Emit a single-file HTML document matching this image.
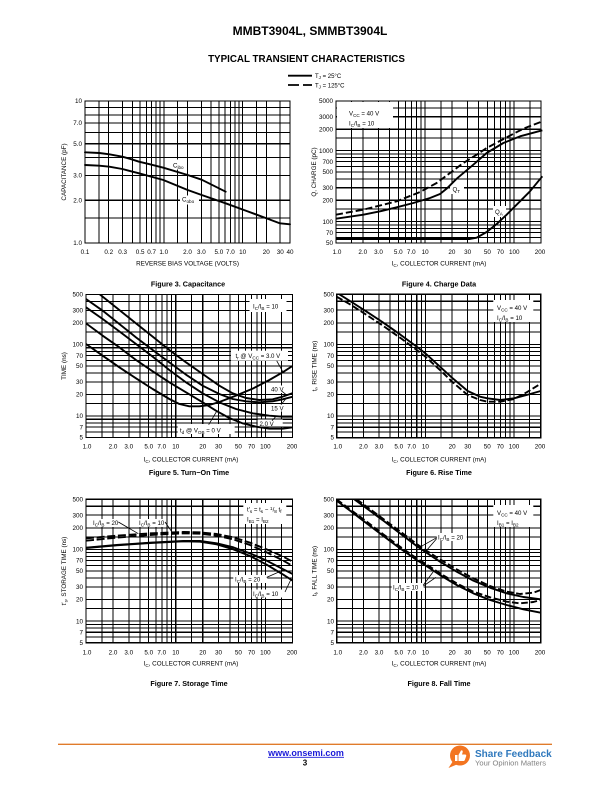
<!DOCTYPE html>
<html><head><meta charset="utf-8"><style>
body{margin:0;background:#fff;width:612px;height:792px;overflow:hidden}
svg{display:block}
text{font-family:"Liberation Sans",Arial,sans-serif;fill:#000}
.t{font-size:6.3px}
.l{font-size:6.1px}
.c{font-size:7.2px;font-weight:bold}
.g{shape-rendering:crispEdges}
</style></head><body>
<svg width="612" height="792" viewBox="0 0 612 792">
<defs>
<path id="v3" d="M176 0V1000M301 0V1000M477 0V1000M602 0V1000M699 0V1000M778 0V1000M845 0V1000M903 0V1000M954 0V1000M1000 0V1000M1176 0V1000M1301 0V1000M1477 0V1000M1602 0V1000M1699 0V1000M1778 0V1000M1845 0V1000M1903 0V1000M1954 0V1000M2000 0V1000M2176 0V1000M2301 0V1000M2477 0V1000"/>
<path id="h3" d="M0 46H2602M0 97H2602M0 155H2602M0 222H2602M0 301H2602M0 398H2602M0 523H2602M0 699H2602M0 824H2602"/>
<path id="vg" d="M176 0V2000M301 0V2000M477 0V2000M602 0V2000M699 0V2000M778 0V2000M845 0V2000M903 0V2000M954 0V2000M1000 0V2000M1176 0V2000M1301 0V2000M1477 0V2000M1602 0V2000M1699 0V2000M1778 0V2000M1845 0V2000M1903 0V2000M1954 0V2000M2000 0V2000M2176 0V2000"/>
<path id="hg" d="M0 97H2301M0 222H2301M0 398H2301M0 523H2301M0 699H2301M0 745H2301M0 796H2301M0 854H2301M0 921H2301M0 1000H2301M0 1097H2301M0 1222H2301M0 1398H2301M0 1523H2301M0 1699H2301M0 1745H2301M0 1796H2301M0 1854H2301M0 1921H2301"/>
</defs>

<!-- Header -->
<text x="310" y="35" font-size="12" font-weight="bold" text-anchor="middle">MMBT3904L, SMMBT3904L</text>
<text x="306.5" y="61.8" font-size="9.8" font-weight="bold" text-anchor="middle">TYPICAL TRANSIENT CHARACTERISTICS</text>
<path d="M288 75.7H312" stroke="#000" stroke-width="1.8"/>
<path d="M288 85H299M303 85H312" stroke="#000" stroke-width="1.8"/>
<text x="315" y="78" font-size="6">T<tspan font-size="4.5" dy="1">J</tspan><tspan dy="-1"> = 25°C</tspan></text>
<text x="315" y="87.3" font-size="6">T<tspan font-size="4.5" dy="1">J</tspan><tspan dy="-1"> = 125°C</tspan></text>

<!-- ================= FIGURE 3 ================= -->
<svg x="85" y="101" width="205" height="142" viewBox="0 0 2602 1000" preserveAspectRatio="none">
<use class="g" href="#v3" stroke="#000" stroke-width="13" fill="none"/>
<use class="g" href="#h3" stroke="#000" stroke-width="7.2" fill="none"/>
</svg>
<rect class="g" x="85" y="101" width="205" height="142" fill="none" stroke="#000" stroke-width="1.3"/>
<rect x="171" y="159.5" width="16" height="10" fill="#fff"/>
<rect x="180" y="195.5" width="19" height="9" fill="#fff"/>
<svg x="60" y="95" width="240" height="165" viewBox="0 0 720 495">
<g fill="none" stroke="#000" stroke-width="5.7" stroke-linejoin="round" stroke-linecap="round">
<polyline points="75,172 118,174 148,178 187,185 215,193 237,200 270,208 310,218 383,240 425,254 497,290"/>
<polyline points="75,210 118,212 148,215 187,222 237,235 310,255 383,285 425,300 497,325 560,348 620,370 660,385 690,388"/>
</g></svg>
<text x="173" y="167.5" font-size="6.2">C<tspan font-size="4.6" dy="1.3">ibo</tspan></text>
<text x="182" y="201.5" font-size="6.2">C<tspan font-size="4.6" dy="1.3">obo</tspan></text>
<g class="t" text-anchor="end">
<text x="82" y="103.2">10</text><text x="82" y="125.2">7.0</text><text x="82" y="145.9">5.0</text><text x="82" y="177.5">3.0</text><text x="82" y="202.5">2.0</text><text x="82" y="245.2">1.0</text>
</g>
<g class="t" text-anchor="middle">
<text x="85" y="254">0.1</text><text x="108.7" y="254">0.2</text><text x="122.6" y="254">0.3</text><text x="140.1" y="254">0.5</text><text x="151.6" y="254">0.7</text><text x="163.8" y="254">1.0</text><text x="187.5" y="254">2.0</text><text x="201.4" y="254">3.0</text><text x="218.9" y="254">5.0</text><text x="230.4" y="254">7.0</text><text x="242.6" y="254">10</text><text x="266.3" y="254">20</text><text x="280.2" y="254">30</text><text x="290" y="254">40</text>
</g>
<text class="t" x="187.5" y="265.5" text-anchor="middle">REVERSE BIAS VOLTAGE (VOLTS)</text>
<text class="t" transform="translate(66,172) rotate(-90)" text-anchor="middle">CAPACITANCE (pF)</text>
<text class="c" x="188" y="286.5" text-anchor="middle">Figure 3. Capacitance</text>

<!-- ================= FIGURE 4 ================= -->
<svg x="336" y="101" width="205" height="142" viewBox="0 0 2301 2000" preserveAspectRatio="none">
<use class="g" href="#vg" stroke="#000" stroke-width="11.5" fill="none"/>
<use class="g" href="#hg" stroke="#000" stroke-width="14.5" fill="none"/>
</svg>
<rect class="g" x="336" y="101" width="205" height="142" fill="none" stroke="#000" stroke-width="1.3"/>
<rect x="337" y="102" width="56" height="26" fill="#fff"/>
<rect x="450" y="183" width="14" height="11" fill="#fff"/>
<rect x="493" y="206" width="13" height="11" fill="#fff"/>
<svg x="330" y="98" width="215" height="150" viewBox="0 0 645 450">
<g fill="none" stroke="#000" stroke-width="5.7" stroke-linejoin="round" stroke-linecap="butt">
<polyline points="18,362 100,350 150,340 200,328 250,315 300,300 330,288 350,272 380,242 430,200 470,165 520,135 570,115 637,97"/>
<polyline stroke-dasharray="21 9" points="18,350 100,335 200,310 270,282 320,255 360,225 400,195 440,170 470,150 530,118 580,92 637,70"/>
<polyline points="18,423 420,423 440,419 470,402 500,378 530,350 560,320 600,280 637,235"/>
</g></svg>
<text class="l" x="349" y="115.5">V<tspan font-size="4.6" dy="1.3">CC</tspan><tspan dy="-1.3"> = 40 V</tspan></text>
<text class="l" x="349" y="125.5">I<tspan font-size="4.6" dy="1.3">C</tspan><tspan dy="-1.3">/I</tspan><tspan font-size="4.6" dy="1.3">B</tspan><tspan dy="-1.3"> = 10</tspan></text>
<text class="l" x="452.5" y="191.5">Q<tspan font-size="4.6" dy="1.3">T</tspan></text>
<text class="l" x="495" y="214">Q<tspan font-size="4.6" dy="1.3">A</tspan></text>
<g class="t" text-anchor="end">
<text x="333" y="103.2">5000</text><text x="333" y="119">3000</text><text x="333" y="131.5">2000</text><text x="333" y="152.8">1000</text><text x="333" y="163.8">700</text><text x="333" y="174.2">500</text><text x="333" y="190">300</text><text x="333" y="202.5">200</text><text x="333" y="223.8">100</text><text x="333" y="234.8">70</text><text x="333" y="245.2">50</text>
</g>
<g class="t" text-anchor="middle">
<text x="337" y="254">1.0</text><text x="362.8" y="254">2.0</text><text x="378.5" y="254">3.0</text><text x="398.3" y="254">5.0</text><text x="411.3" y="254">7.0</text><text x="425.1" y="254">10</text><text x="451.9" y="254">20</text><text x="467.6" y="254">30</text><text x="487.4" y="254">50</text><text x="500.4" y="254">70</text><text x="514.2" y="254">100</text><text x="540" y="254">200</text>
</g>
<text class="t" x="439" y="265.5" text-anchor="middle">I<tspan font-size="4.6" dy="1.3">C</tspan><tspan dy="-1.3">, COLLECTOR CURRENT (mA)</tspan></text>
<text class="t" transform="translate(316,172) rotate(-90)" text-anchor="middle">Q, CHARGE (pC)</text>
<text class="c" x="439" y="286.5" text-anchor="middle">Figure 4. Charge Data</text>

<!-- ================= FIGURE 5 ================= -->
<svg x="86" y="294.5" width="206.5" height="143" viewBox="0 0 2301 2000" preserveAspectRatio="none">
<use class="g" href="#vg" stroke="#000" stroke-width="11.5" fill="none"/>
<use class="g" href="#hg" stroke="#000" stroke-width="14.5" fill="none"/>
</svg>
<rect class="g" x="86" y="294.5" width="206.5" height="143" fill="none" stroke="#000" stroke-width="1.3"/>
<rect x="249.5" y="299" width="37" height="13" fill="#fff"/>
<rect x="231" y="350.7" width="57" height="10" fill="#fff"/>
<rect x="269.3" y="385.5" width="15" height="7.5" fill="#fff"/>
<rect x="269.3" y="404" width="15" height="7.5" fill="#fff"/>
<rect x="257.7" y="419.5" width="25" height="7" fill="#fff"/>
<rect x="177.7" y="424" width="57" height="10" fill="#fff"/>
<svg x="86" y="294" width="207" height="145" viewBox="0 0 621 435">
<g fill="none" stroke="#000" stroke-width="5.7" stroke-linejoin="round">
<polyline points="0,150 50,185 100,220 150,253 200,285 250,315 280,330 310,337 340,337 370,333 400,324 450,305 500,284 550,258 590,235 621,215"/>
<polyline points="40,0 100,48 150,88 200,128 250,168 300,205 350,240 400,275 440,298 480,312 520,318 560,316 590,308 621,297"/>
<polyline points="0,15 50,50 100,90 150,130 200,168 250,205 300,242 350,275 400,300 440,315 480,322 520,325 560,322 590,316 621,308"/>
<polyline points="0,40 50,75 100,112 150,150 200,188 250,228 300,265 350,298 400,325 450,345 500,358 550,365 590,368 621,368"/>
<polyline points="0,88 50,125 100,160 150,198 200,232 250,265 300,295 350,325 390,350 430,372 470,388 510,398 550,404 590,404 621,400"/>
</g>
<g stroke="#000" stroke-width="2.4">
<path d="M572 200L592 236M588 292L603 304M585 332L600 314M558 380L570 367M368 392L392 352"/>
</g></svg>
<text class="l" x="253" y="308.5">I<tspan font-size="4.6" dy="1.3">C</tspan><tspan dy="-1.3">/I</tspan><tspan font-size="4.6" dy="1.3">B</tspan><tspan dy="-1.3"> = 10</tspan></text>
<text class="l" x="235.5" y="358">t<tspan font-size="4.6" dy="1.3">r</tspan><tspan dy="-1.3"> @ V</tspan><tspan font-size="4.6" dy="1.3">CC</tspan><tspan dy="-1.3"> = 3.0 V</tspan></text>
<text class="l" x="271" y="391.5">40 V</text>
<text class="l" x="271" y="410.5">15 V</text>
<text class="l" x="259.5" y="425.8">2.0 V</text>
<text class="l" x="180" y="432.5">t<tspan font-size="4.6" dy="1.3">d</tspan><tspan dy="-1.3"> @ V</tspan><tspan font-size="4.6" dy="1.3">OB</tspan><tspan dy="-1.3"> = 0 V</tspan></text>
<g class="t" text-anchor="end">
<text x="83" y="296.7">500</text><text x="83" y="312.6">300</text><text x="83" y="325.2">200</text><text x="83" y="346.7">100</text><text x="83" y="357.8">70</text><text x="83" y="368.2">50</text><text x="83" y="384.1">30</text><text x="83" y="396.7">20</text><text x="83" y="418.2">10</text><text x="83" y="429.3">7</text><text x="83" y="439.7">5</text>
</g>
<g class="t" text-anchor="middle">
<text x="87" y="448.5">1.0</text><text x="113" y="448.5">2.0</text><text x="128.8" y="448.5">3.0</text><text x="148.7" y="448.5">5.0</text><text x="161.8" y="448.5">7.0</text><text x="175.7" y="448.5">10</text><text x="202.7" y="448.5">20</text><text x="218.5" y="448.5">30</text><text x="238.4" y="448.5">50</text><text x="251.5" y="448.5">70</text><text x="265.4" y="448.5">100</text><text x="292" y="448.5">200</text>
</g>
<text class="t" x="191" y="461.5" text-anchor="middle">I<tspan font-size="4.6" dy="1.3">C</tspan><tspan dy="-1.3">, COLLECTOR CURRENT (mA)</tspan></text>
<text class="t" transform="translate(66,366) rotate(-90)" text-anchor="middle">TIME (ns)</text>
<text class="c" x="189" y="475" text-anchor="middle">Figure 5. Turn−On Time</text>

<!-- ================= FIGURE 6 ================= -->
<svg x="336.7" y="294.3" width="204" height="143.4" viewBox="0 0 2301 2000" preserveAspectRatio="none">
<use class="g" href="#vg" stroke="#000" stroke-width="11.5" fill="none"/>
<use class="g" href="#hg" stroke="#000" stroke-width="14.5" fill="none"/>
</svg>
<rect class="g" x="336.7" y="294.3" width="204" height="143.4" fill="none" stroke="#000" stroke-width="1.3"/>
<rect x="493.3" y="300" width="40" height="22" fill="#fff"/>
<svg x="300" y="285" width="260" height="200" viewBox="0 0 780 600">
<g fill="none" stroke="#000" stroke-width="5.7" stroke-linejoin="round">
<polyline points="118,28 150,48 200,80 250,113 300,148 350,185 376,205 420,245 456,278 503,318 540,335 562,340 601,345 642,340 680,330 722,318"/>
<polyline stroke-dasharray="20 8" points="110,35 150,58 200,90 250,123 300,158 350,195 376,215 420,255 456,290 503,330 540,345 562,350 601,350 642,342 680,322 722,296"/>
</g></svg>
<text class="l" x="497" y="310">V<tspan font-size="4.6" dy="1.3">CC</tspan><tspan dy="-1.3"> = 40 V</tspan></text>
<text class="l" x="497" y="320">I<tspan font-size="4.6" dy="1.3">C</tspan><tspan dy="-1.3">/I</tspan><tspan font-size="4.6" dy="1.3">B</tspan><tspan dy="-1.3"> = 10</tspan></text>
<g class="t" text-anchor="end">
<text x="334" y="296.7">500</text><text x="334" y="312.6">300</text><text x="334" y="325.2">200</text><text x="334" y="346.7">100</text><text x="334" y="357.8">70</text><text x="334" y="368.2">50</text><text x="334" y="384.1">30</text><text x="334" y="396.7">20</text><text x="334" y="418.2">10</text><text x="334" y="429.3">7</text><text x="334" y="439.7">5</text>
</g>
<g class="t" text-anchor="middle">
<text x="337.7" y="448.5">1.0</text><text x="363.4" y="448.5">2.0</text><text x="379" y="448.5">3.0</text><text x="398.7" y="448.5">5.0</text><text x="411.6" y="448.5">7.0</text><text x="425.4" y="448.5">10</text><text x="452.1" y="448.5">20</text><text x="467.7" y="448.5">30</text><text x="487.3" y="448.5">50</text><text x="500.3" y="448.5">70</text><text x="514" y="448.5">100</text><text x="540" y="448.5">200</text>
</g>
<text class="t" x="439" y="461.5" text-anchor="middle">I<tspan font-size="4.6" dy="1.3">C</tspan><tspan dy="-1.3">, COLLECTOR CURRENT (mA)</tspan></text>
<text class="t" transform="translate(316.5,366) rotate(-90)" text-anchor="middle">t<tspan font-size="4.6" dy="1.3">r</tspan><tspan dy="-1.3">, RISE TIME (ns)</tspan></text>
<text class="c" x="439" y="475" text-anchor="middle">Figure 6. Rise Time</text>

<!-- ================= FIGURE 7 ================= -->
<svg x="86" y="499.3" width="206.5" height="143.4" viewBox="0 0 2301 2000" preserveAspectRatio="none">
<use class="g" href="#vg" stroke="#000" stroke-width="11.5" fill="none"/>
<use class="g" href="#hg" stroke="#000" stroke-width="14.5" fill="none"/>
</svg>
<rect class="g" x="86" y="499.3" width="206.5" height="143.4" fill="none" stroke="#000" stroke-width="1.3"/>
<rect x="243.3" y="503" width="43" height="21" fill="#fff"/>
<rect x="92" y="519" width="27" height="8" fill="#fff"/>
<rect x="137.5" y="519" width="28" height="8" fill="#fff"/>
<rect x="233.3" y="575" width="34" height="8" fill="#fff"/>
<rect x="251.7" y="589.5" width="34" height="8" fill="#fff"/>
<svg x="50" y="490" width="260" height="200" viewBox="0 0 780 600">
<g fill="none" stroke="#000" stroke-width="5.7" stroke-linejoin="round">
<polyline stroke-dasharray="24 8" points="108,145 200,137 300,130 400,126 450,127 500,132 550,142 600,158 650,178 700,200 728,215"/>
<polyline stroke-dasharray="24 8" points="108,152 200,143 300,135 400,130 450,131 500,137 550,148 600,165 650,187 700,212 728,228"/>
<polyline points="108,173 200,165 300,158 400,153 450,153 500,160 550,172 600,190 650,212 700,238 728,252"/>
<polyline points="108,174 200,166 300,159 400,154 450,155 500,163 550,178 600,198 650,224 700,254 728,272"/>
</g>
<g stroke="#000" stroke-width="2.4">
<path d="M205 96L265 131M345 96L366 126M650 262L700 240M705 306L722 270"/>
</g></svg>
<text class="l" x="247" y="511.5">t′<tspan font-size="4.6" dy="1.3">s</tspan><tspan dy="-1.3"> = t</tspan><tspan font-size="4.6" dy="1.3">s</tspan><tspan dy="-1.3"> − </tspan><tspan font-size="4.6" dy="-1.5">1</tspan><tspan dy="1.5">/</tspan><tspan font-size="4.6" dy="1.3">8</tspan><tspan dy="-1.3"> t</tspan><tspan font-size="4.6" dy="1.3">f</tspan></text>
<text class="l" x="247" y="521.5">I<tspan font-size="4.6" dy="1.3">B1</tspan><tspan dy="-1.3"> = I</tspan><tspan font-size="4.6" dy="1.3">B2</tspan></text>
<text class="l" x="93" y="525">I<tspan font-size="4.6" dy="1.3">C</tspan><tspan dy="-1.3">/I</tspan><tspan font-size="4.6" dy="1.3">B</tspan><tspan dy="-1.3"> = 20</tspan></text>
<text class="l" x="139" y="525">I<tspan font-size="4.6" dy="1.3">C</tspan><tspan dy="-1.3">/I</tspan><tspan font-size="4.6" dy="1.3">B</tspan><tspan dy="-1.3"> = 10</tspan></text>
<text class="l" x="235" y="581.5">I<tspan font-size="4.6" dy="1.3">C</tspan><tspan dy="-1.3">/I</tspan><tspan font-size="4.6" dy="1.3">B</tspan><tspan dy="-1.3"> = 20</tspan></text>
<text class="l" x="253" y="596">I<tspan font-size="4.6" dy="1.3">C</tspan><tspan dy="-1.3">/I</tspan><tspan font-size="4.6" dy="1.3">B</tspan><tspan dy="-1.3"> = 10</tspan></text>
<g class="t" text-anchor="end">
<text x="83" y="501.5">500</text><text x="83" y="517.4">300</text><text x="83" y="530">200</text><text x="83" y="551.6">100</text><text x="83" y="562.7">70</text><text x="83" y="573.2">50</text><text x="83" y="589.1">30</text><text x="83" y="601.7">20</text><text x="83" y="623.3">10</text><text x="83" y="634.4">7</text><text x="83" y="644.9">5</text>
</g>
<g class="t" text-anchor="middle">
<text x="87" y="654.3">1.0</text><text x="113" y="654.3">2.0</text><text x="128.8" y="654.3">3.0</text><text x="148.7" y="654.3">5.0</text><text x="161.8" y="654.3">7.0</text><text x="175.7" y="654.3">10</text><text x="202.7" y="654.3">20</text><text x="218.5" y="654.3">30</text><text x="238.4" y="654.3">50</text><text x="251.5" y="654.3">70</text><text x="265.4" y="654.3">100</text><text x="292" y="654.3">200</text>
</g>
<text class="t" x="191" y="665.5" text-anchor="middle">I<tspan font-size="4.6" dy="1.3">C</tspan><tspan dy="-1.3">, COLLECTOR CURRENT (mA)</tspan></text>
<text class="t" transform="translate(66,571) rotate(-90)" text-anchor="middle">t′<tspan font-size="4.6" dy="1.3">s</tspan><tspan dy="-1.3">, STORAGE TIME (ns)</tspan></text>
<text class="c" x="189" y="686" text-anchor="middle">Figure 7. Storage Time</text>

<!-- ================= FIGURE 8 ================= -->
<svg x="336.7" y="499.3" width="204" height="143.4" viewBox="0 0 2301 2000" preserveAspectRatio="none">
<use class="g" href="#vg" stroke="#000" stroke-width="11.5" fill="none"/>
<use class="g" href="#hg" stroke="#000" stroke-width="14.5" fill="none"/>
</svg>
<rect class="g" x="336.7" y="499.3" width="204" height="143.4" fill="none" stroke="#000" stroke-width="1.3"/>
<rect x="493.3" y="505" width="40" height="22" fill="#fff"/>
<rect x="436.7" y="533" width="30" height="8" fill="#fff"/>
<rect x="391.7" y="583" width="32" height="8" fill="#fff"/>
<svg x="300" y="490" width="260" height="200" viewBox="0 0 780 600">
<g fill="none" stroke="#000" stroke-width="5.7" stroke-linejoin="round">
<polyline points="163,28 200,55 250,92 300,130 350,168 376,186 420,215 470,245 520,272 570,293 620,310 670,321 722,328"/>
<polyline stroke-dasharray="20 8" points="170,28 200,50 250,87 300,124 350,162 376,180 420,208 470,238 520,265 570,288 620,305 660,312 700,308 722,300"/>
<polyline points="110,32 150,62 200,100 250,138 300,175 350,210 376,226 420,255 470,285 520,310 570,330 620,345 670,358 722,368"/>
<polyline stroke-dasharray="20 8" points="110,28 150,58 200,95 250,133 300,170 350,205 376,221 420,250 470,280 520,305 570,322 620,335 660,340 700,336 722,330"/>
</g>
<g stroke="#000" stroke-width="2.4">
<path d="M410 143L362 170M410 146L374 188M370 285L400 245M370 288L408 262"/>
</g></svg>
<text class="l" x="497" y="515">V<tspan font-size="4.6" dy="1.3">CC</tspan><tspan dy="-1.3"> = 40 V</tspan></text>
<text class="l" x="497" y="525">I<tspan font-size="4.6" dy="1.3">B1</tspan><tspan dy="-1.3"> = I</tspan><tspan font-size="4.6" dy="1.3">B2</tspan></text>
<text class="l" x="438" y="539.5">I<tspan font-size="4.6" dy="1.3">C</tspan><tspan dy="-1.3">/I</tspan><tspan font-size="4.6" dy="1.3">B</tspan><tspan dy="-1.3"> = 20</tspan></text>
<text class="l" x="393" y="589.5">I<tspan font-size="4.6" dy="1.3">C</tspan><tspan dy="-1.3">/I</tspan><tspan font-size="4.6" dy="1.3">B</tspan><tspan dy="-1.3"> = 10</tspan></text>
<g class="t" text-anchor="end">
<text x="334" y="501.5">500</text><text x="334" y="517.4">300</text><text x="334" y="530">200</text><text x="334" y="551.6">100</text><text x="334" y="562.7">70</text><text x="334" y="573.2">50</text><text x="334" y="589.1">30</text><text x="334" y="601.7">20</text><text x="334" y="623.3">10</text><text x="334" y="634.4">7</text><text x="334" y="644.9">5</text>
</g>
<g class="t" text-anchor="middle">
<text x="337.7" y="654.3">1.0</text><text x="363.4" y="654.3">2.0</text><text x="379" y="654.3">3.0</text><text x="398.7" y="654.3">5.0</text><text x="411.6" y="654.3">7.0</text><text x="425.4" y="654.3">10</text><text x="452.1" y="654.3">20</text><text x="467.7" y="654.3">30</text><text x="487.3" y="654.3">50</text><text x="500.3" y="654.3">70</text><text x="514" y="654.3">100</text><text x="540" y="654.3">200</text>
</g>
<text class="t" x="439" y="665.5" text-anchor="middle">I<tspan font-size="4.6" dy="1.3">C</tspan><tspan dy="-1.3">, COLLECTOR CURRENT (mA)</tspan></text>
<text class="t" transform="translate(316.5,571) rotate(-90)" text-anchor="middle">t<tspan font-size="4.6" dy="1.3">f</tspan><tspan dy="-1.3">, FALL TIME (ns)</tspan></text>
<text class="c" x="439" y="686" text-anchor="middle">Figure 8. Fall Time</text>

<!-- Footer -->
<path d="M58 744.3H552" stroke="#e07b2b" stroke-width="1.4"/>
<text x="306" y="755.8" font-size="9" font-weight="bold" text-anchor="middle" style="fill:#1a1ad8">www.onsemi.com</text>
<path d="M268 757.3H344" stroke="#1a1ad8" stroke-width="0.8"/>
<text x="305" y="765.5" font-size="8" font-weight="bold" text-anchor="middle">3</text>
<circle cx="460" cy="755.5" r="10" fill="#f37521"/>
<path d="M453 761L448.5 768L458 764Z" fill="#f37521"/>
<path d="M455 755h2.5v6h-2.5z M458.5 755 l2.5-4.5 c1-0.5 2 0 1.7 1.5 l-0.7 2.5 h3 c1 0 1.5 0.8 1.2 1.6 l-1.4 4 c-0.3 0.6-0.8 0.9-1.4 0.9 h-4.9z" fill="#fff"/>
<text x="475" y="757" font-size="10" font-weight="bold" style="fill:#2e78bd">Share Feedback</text>
<text x="475" y="765.5" font-size="7.6" style="fill:#7f7f7f">Your Opinion Matters</text>
</svg>
</body></html>
